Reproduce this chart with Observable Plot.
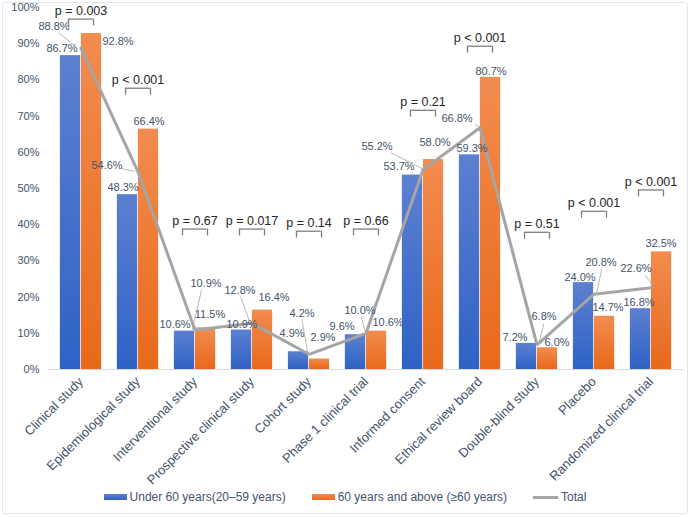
<!DOCTYPE html>
<html>
<head>
<meta charset="utf-8">
<script src="https://cdn.jsdelivr.net/npm/d3@7"></script>
<script src="https://cdn.jsdelivr.net/npm/@observablehq/plot@0.6"></script>
<style>
  body { margin: 0; background: #fff; font-family: "Liberation Sans", Arial, sans-serif; }
  #wrap { position: relative; width: 690px; height: 517px; overflow: hidden; background: #fff; }
  #frame { position: absolute; left: 2px; top: 2px; right: 2px; bottom: 3px; border: 1px solid #e2e6ec; border-radius: 3px; pointer-events: none; }
  #chart { position: absolute; left: 0; top: 0; }
  #chart svg { overflow: visible; }
  #legend { position: absolute; left: 0; width: 690px; top: 488px; height: 18px; display: flex; justify-content: center; align-items: center; gap: 26px; font-size: 12px; color: #44546a; }
  .item { display: flex; align-items: center; gap: 3px; white-space: nowrap; }
  .sw { width: 23px; height: 6px; }
  .ln { width: 25px; height: 3px; background: #a5a5a5; }
</style>
</head>
<body>
<div id="wrap">
  <div id="chart"></div>
  <div id="legend">
    <div class="item"><div class="sw" style="background:linear-gradient(#5d80d0,#2e62c5)"></div><span>Under 60 years(20–59 years)</span></div>
    <div class="item"><div class="sw" style="background:linear-gradient(#f28c4f,#e8691b)"></div><span>60 years and above (≥60 years)</span></div>
    <div class="item"><div class="ln"></div><span>Total</span></div>
  </div>
  <div id="frame"></div>
</div>
<script>
// ---------- data ----------
const categories = ["Clinical study", "Epidemiological study", "Interventional study", "Prospective clinical study", "Cohort study", "Phase 1 clinical trial", "Informed consent", "Ethical review board", "Double-blind study", "Placebo", "Randomized clinical trial"];
const under60 = [86.7, 48.3, 10.6, 10.9, 4.9, 9.6, 53.7, 59.3, 7.2, 24.0, 16.8];
const over60 = [92.8, 66.4, 11.5, 16.4, 2.9, 10.6, 58.0, 80.7, 6.0, 14.7, 32.5];
const total = [88.8, 54.6, 10.9, 12.8, 4.2, 10.0, 55.2, 66.8, 6.8, 20.8, 22.6];
const pLabels = ["p = 0.003", "p < 0.001", "p = 0.67", "p = 0.017", "p = 0.14", "p = 0.66", "p = 0.21", "p < 0.001", "p = 0.51", "p < 0.001", "p < 0.001"];
const bracketLevel = [96.8, 77.7, 38.8, 38.8, 38.2, 38.8, 71.6, 89.3, 37.9, 43.7, 49.6];
const yTicks = [0, 10, 20, 30, 40, 50, 60, 70, 80, 90, 100];

// ---------- label placement (pixel offsets, layout only) ----------
const under60Shift = [[-19,-7],[-15,-7.5],[-20,-7],[-10,-6],[-17,-18],[-24,-8],[-24,-9],[-8,-6.5],[-22,-6],[-14,-5.5],[-12,-6]];
const over60Shift = [[37,7.5],[11,-8],[15,-13],[22,-13],[14,-22],[22,-9],[12,-17],[11,-6],[20,-5],[14,-9],[10,-8.5]];
const totalShift = [[-27,-22],[-31,-6.5],[11,-47],[-12,-33],[-7,-41],[-6,-23],[-46,-23.5],[-23,-9.5],[7,-28],[7,-32],[-15,-19.5]];

const rows = categories.map((c, i) => ({c, u: under60[i], o: over60[i], t: total[i], p: pLabels[i], b: bracketLevel[i]}));
const fmt = v => v.toFixed(1) + "%";
const labelColor = "#44546a";
const BW = 635 / 11;
const half = BW / 2;
const barW = 21;

const marks = [
  Plot.ruleY([0], {stroke: "#d9d9d9", strokeWidth: 1}),
  Plot.barY(rows, {x: "c", y: "u", fill: "#4472c5", insetLeft: half - barW, insetRight: half}),
  Plot.barY(rows, {x: "c", y: "o", fill: "#ed7d32", insetLeft: half, insetRight: half - barW}),
  Plot.lineY(rows, {x: "c", y: "t", stroke: "#a5a5a5", strokeWidth: 3, strokeLinejoin: "miter"}),
  // brackets
  Plot.tickY(rows, {x: "c", y: "b", stroke: "#7f7f7f", strokeWidth: 1.3, insetLeft: half - 12.5, insetRight: half - 12.5}),
  Plot.ruleX(rows, {x: "c", y1: "b", y2: d => d.b - 1.9, dx: -12.5, stroke: "#7f7f7f", strokeWidth: 1.3}),
  Plot.ruleX(rows, {x: "c", y1: "b", y2: d => d.b - 1.9, dx: 12.5, stroke: "#7f7f7f", strokeWidth: 1.3}),
  Plot.text(rows, {x: "c", y: "b", text: "p", lineAnchor: "bottom", dy: -4, fontSize: 12.5, fill: "#262626"})
];
rows.forEach((d, i) => {
  marks.push(Plot.text([d], {x: "c", y: "u", text: r => fmt(r.u), dx: under60Shift[i][0], dy: under60Shift[i][1], fontSize: 11, fill: labelColor}));
  marks.push(Plot.text([d], {x: "c", y: "o", text: r => fmt(r.o), dx: over60Shift[i][0], dy: over60Shift[i][1], fontSize: 11, fill: labelColor}));
  marks.push(Plot.text([d], {x: "c", y: "t", text: r => fmt(r.t), dx: totalShift[i][0], dy: totalShift[i][1], fontSize: 11, fill: labelColor}));
});

const svg = Plot.plot({
  width: 690,
  height: 500,
  marginLeft: 48,
  marginRight: 7,
  marginTop: 7,
  marginBottom: 131,
  style: {fontFamily: "'Liberation Sans', Arial, sans-serif", fontSize: "11px", color: labelColor, background: "transparent", overflow: "visible"},
  x: {domain: categories, padding: 0, label: null, tickSize: 0, tickRotate: -45, tickPadding: 10},
  y: {domain: [0, 100], ticks: yTicks, tickFormat: d => d + "%", label: null, tickSize: 0, tickPadding: 9},
  marks
});

document.getElementById("chart").appendChild(svg);

// gradients for the bars
const s = d3.select(svg);
const defs = s.insert("defs", ":first-child");
function grad(id, top, bottom) {
  const g = defs.append("linearGradient").attr("id", id).attr("x1", 0).attr("y1", 0).attr("x2", 0).attr("y2", 1);
  g.append("stop").attr("offset", "0%").attr("stop-color", top);
  g.append("stop").attr("offset", "100%").attr("stop-color", bottom);
}
grad("gBlue", "#5d80d0", "#2e62c5");
grad("gOrange", "#f28c4f", "#e8691b");
s.selectAll('[fill="#4472c5"]').attr("fill", "url(#gBlue)");
s.selectAll('[fill="#ed7d32"]').attr("fill", "url(#gOrange)");
s.selectAll('[aria-label^="x-axis"] text').attr("font-size", 13);

// leader lines from total labels to total points (through the plot's own scales)
const sx = svg.scale("x"), sy = svg.scale("y");
const xs = d3.scaleBand().domain(sx.domain).range(sx.range).paddingInner(sx.paddingInner ?? 0).paddingOuter(sx.paddingOuter ?? 0).align(sx.align ?? 0.5);
const ys = d3.scaleLinear().domain(sy.domain).range(sy.range);
const lg = s.append("g").attr("stroke", "#a6a6a6").attr("stroke-width", 0.8);
rows.forEach((d, i) => {
  const px = xs(d.c) + xs.bandwidth() / 2, py = ys(d.t);
  const lx = px + totalShift[i][0], ly = py + totalShift[i][1];
  const ddx = px - lx, ddy = py - ly;
  const t = Math.min(ddx === 0 ? Infinity : 17 / Math.abs(ddx), ddy === 0 ? Infinity : 7 / Math.abs(ddy));
  if (t >= 0.85) return;
  lg.append("line").attr("x1", lx + ddx * t).attr("y1", ly + ddy * t).attr("x2", px).attr("y2", py);
});
</script>
</body>
</html>
